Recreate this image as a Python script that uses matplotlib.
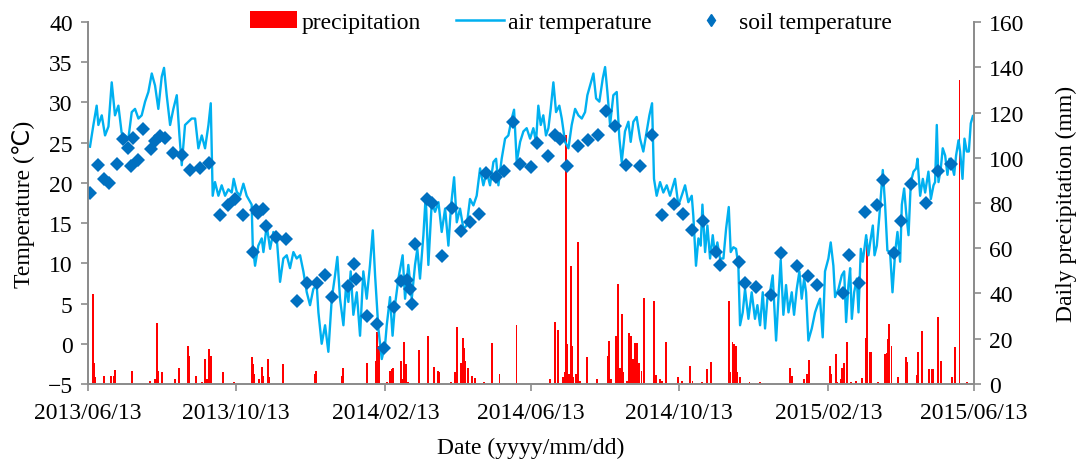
import numpy as np
import matplotlib
matplotlib.use("Agg")
import matplotlib.pyplot as plt
import matplotlib.dates as mdates
from matplotlib.patches import Patch
from matplotlib.lines import Line2D

plt.rcParams['font.family'] = ['Liberation Serif', 'DejaVu Sans']
plt.rcParams['font.size'] = 17

start_date = "2013-06-13"
end_date = "2015-06-13"
tick_dates = ["2013-06-13", "2013-10-13", "2014-02-13", "2014-06-13",
              "2014-10-13", "2015-02-13", "2015-06-13"]

# daily air temperature, days after 2013/06/13
air_day = [1.6, 4.4, 7.1, 8.5, 11.3, 14.0, 16.8, 19.5, 22.2, 25.0, 27.7, 30.5, 33.2, 36.0, 38.7,
           41.5, 44.2, 47.0, 49.7, 52.5, 55.2, 57.9, 60.7, 62.6, 64.8, 67.6, 70.3, 73.1, 75.3,
           77.2, 79.9, 82.7, 85.4, 88.2, 90.9, 93.7, 96.4, 99.2, 101.1, 102.7, 104.6, 107.4,
           110.1, 112.9, 115.6, 118.4, 120.0, 122.5, 125.2, 128.0, 130.7, 134.8, 135.7, 137.6,
           140.3, 143.1, 144.5, 147.2, 150.0, 152.7, 155.5, 158.2, 160.9, 163.7, 166.4, 169.2,
           171.9, 174.7, 177.4, 180.2, 182.9, 185.6, 188.4, 189.8, 192.5, 195.3, 198.0, 200.8,
           203.5, 205.4, 207.6, 210.4, 212.6, 214.5, 216.4, 218.6, 221.4, 224.1, 226.8, 229.6,
           232.3, 234.6, 236.5, 239.2, 242.0, 244.7, 246.1, 248.8, 250.9, 252.9, 255.7, 259.2,
           261.2, 263.9, 266.7, 269.4, 271.3, 273.5, 276.3, 278.2, 280.4, 283.2, 285.9, 288.7,
           291.4, 294.2, 296.9, 299.1, 301.6, 303.8, 306.5, 309.3, 312.0, 314.7, 317.5, 320.2,
           323.0, 325.7, 328.5, 331.2, 334.0, 336.2, 338.1, 340.8, 343.6, 346.3, 349.1, 351.0,
           353.2, 356.0, 358.7, 361.4, 364.2, 366.9, 369.1, 371.0, 373.0, 375.1, 377.3, 379.3,
           381.2, 383.4, 385.6, 388.3, 390.3, 393.0, 395.8, 398.5, 401.3, 404.0, 406.8, 409.5,
           411.4, 413.6, 416.4, 418.6, 421.3, 424.1, 426.0, 427.9, 430.1, 432.8, 435.6, 437.8,
           439.7, 442.4, 445.2, 447.1, 449.3, 452.0, 454.8, 457.5, 460.3, 462.5, 464.7, 466.3,
           468.5, 471.3, 474.0, 476.8, 479.5, 483.6, 486.4, 489.1, 491.9, 494.6, 497.4, 498.7,
           500.9, 502.9, 504.8, 506.2, 508.4, 510.3, 512.5, 514.7, 516.6, 518.5, 520.7, 523.5,
           525.7, 527.9, 529.5, 531.7, 533.9, 535.8, 537.2, 539.4, 541.3, 544.1, 546.8, 549.5,
           551.5, 553.7, 555.9, 557.8, 559.7, 561.9, 564.1, 566.9, 569.1, 570.7, 572.9, 575.1,
           577.1, 579.8, 581.7, 583.9, 586.1, 588.0, 590.0, 591.6, 593.5, 596.3, 599.0, 601.0,
           603.1, 605.3, 607.2, 610.0, 611.9, 614.1, 615.5, 618.3, 621.0, 623.0, 624.6, 626.5,
           627.9, 629.3, 631.2, 633.4, 634.8, 636.7, 638.3, 641.1, 643.0, 644.4, 646.6, 648.0,
           649.9, 652.0, 654.8, 656.7, 658.6, 660.8, 662.8, 665.0, 666.9, 669.1, 670.5, 672.4,
           674.0, 676.0, 677.9, 680.1, 682.3, 683.4, 685.6, 687.8, 689.7, 692.4, 694.4, 696.6,
           697.9, 699.3, 700.7, 702.6, 704.2, 706.2, 708.1, 709.7, 711.7, 713.6, 715.2, 717.2,
           718.5, 720.5, 722.1, 724.0, 725.7, 727.3, 729.0]
air_temp = [24.5, 27.2, 29.6, 27.2, 28.4, 25.9, 27.0, 32.5, 28.4, 29.6, 26.2, 25.9, 25.5, 28.8, 29.2,
            28.0, 28.4, 30.1, 31.3, 33.6, 32.1, 29.2, 33.2, 34.3, 30.9, 27.2, 29.2, 30.9, 25.9,
            22.2, 27.2, 27.6, 28.0, 28.0, 24.3, 25.9, 24.3, 27.2, 29.9, 18.4, 20.1, 18.4,
            19.7, 18.4, 19.2, 18.8, 20.5, 18.9, 18.4, 19.9, 18.4, 17.3, 12.2, 9.7,
            12.2, 13.1, 11.4, 14.7, 11.8, 13.9, 13.1, 7.7, 10.6, 11.0, 9.4, 11.4,
            10.6, 11.0, 9.0, 6.4, 4.8, 6.8, 7.3, 3.9, 0.0, 2.3, -1.0, 5.6,
            8.5, 10.8, 5.6, 2.3, 7.3, 5.2, 9.0, 3.6, 6.4, 1.0, 9.0, 5.6,
            9.8, 14.1, 8.5, 1.9, -1.9, -0.2, 2.3, 5.8, 1.0, 4.8, 8.1, 11.0,
            5.6, 9.8, 5.6, 9.8, 11.8, 8.1, 13.5, 18.4, 9.8, 17.6, 16.4, 17.6,
            13.9, 16.8, 12.2, 17.2, 20.7, 15.1, 16.8, 14.3, 14.7, 18.0, 17.2, 18.4,
            21.8, 19.7, 21.4, 19.7, 22.6, 23.0, 19.7, 23.0, 25.5, 25.9, 28.0, 29.1,
            22.6, 25.1, 26.4, 26.8, 25.5, 26.8, 25.1, 29.6, 27.2, 28.4, 25.9, 26.8,
            29.2, 32.5, 28.8, 29.6, 28.0, 25.1, 24.3, 27.2, 29.2, 28.4, 28.0, 28.8,
            30.9, 32.1, 33.6, 30.5, 30.1, 33.0, 34.4, 31.3, 27.2, 30.9, 31.3, 25.5,
            22.6, 26.4, 27.6, 25.1, 27.6, 28.2, 25.5, 23.9, 26.4, 28.4, 29.9, 20.5,
            18.4, 20.1, 18.8, 19.7, 18.4, 20.5, 17.2, 18.4, 19.7, 17.6, 18.4, 15.9,
            9.7, 13.1, 12.2, 17.3, 11.4, 14.7, 10.6, 13.5, 11.0, 12.6, 10.6, 10.6,
            14.3, 17.0, 11.4, 12.0, 11.8, 9.7, 2.3, 3.9, 6.8, 3.1, 6.4, 3.1,
            4.8, 2.3, 6.4, 1.9, 5.6, 6.4, 8.5, 0.4, 6.4, 10.4, 3.6, 7.3,
            3.9, 6.4, 3.6, 6.8, 9.0, 5.6, 8.1, 6.4, 0.4, 1.9, 3.9, 4.8,
            5.6, 0.8, 9.0, 10.6, 12.6, 9.7, 5.8, 6.8, 8.5, 9.0, 2.7, 7.3,
            9.4, 3.1, 6.4, 8.1, 3.9, 11.8, 10.2, 13.5, 11.0, 12.6, 14.7, 11.0,
            12.2, 15.9, 21.6, 17.3, 11.6, 11.4, 6.4, 11.4, 13.9, 10.2, 17.3, 19.3,
            16.4, 13.5, 20.1, 21.4, 21.8, 23.0, 18.4, 20.5, 18.8, 21.4, 18.0, 19.7,
            20.1, 27.2, 20.1, 21.8, 24.3, 23.4, 21.0, 23.0, 22.2, 21.0, 23.4, 25.3,
            23.9, 20.5, 25.5, 23.9, 23.9, 27.4, 28.3]

# soil temperature samples
soil_day = [2, 8, 13, 17, 24, 29, 33, 35, 37, 41, 45, 52, 55, 59, 63, 70, 77, 84, 92, 100,
            109, 115, 121, 128, 136, 138, 140, 144, 147, 155, 163, 172, 180, 189, 195, 201,
            214, 219, 221, 230, 238, 244, 252, 258, 263, 265, 267, 269, 279, 283, 292, 300,
            307, 315, 322, 328, 336, 343, 350, 356, 365, 370, 379, 385, 389, 395, 404, 412,
            420, 427, 434, 443, 455, 465, 473, 483, 490, 498, 507, 517, 521, 536, 541, 550,
            563, 571, 584, 593, 601, 622, 627, 635, 640, 650, 655, 664, 670, 678, 690, 700, 711]
soil_temp = [18.7, 22.2, 20.5, 20.0, 22.3, 25.4, 24.3, 22.1, 25.6, 22.9, 26.7, 24.2, 25.2, 25.8,
             25.6, 23.7, 23.5, 21.6, 21.9, 22.5, 16.0, 17.3, 18.0, 16.0, 11.4, 16.6, 16.3, 16.8,
             14.7, 13.3, 13.0, 5.3, 7.5, 7.6, 8.5, 5.8, 7.2, 9.95, 8.0, 3.5, 2.5, -0.5, 4.6,
             7.75, 7.9, 6.8, 4.9, 12.4, 17.95, 17.5, 10.9, 16.9, 14.0, 15.1, 16.1, 21.2, 20.7,
             21.5, 27.6, 22.3, 22.0, 24.9, 23.4, 25.9, 25.5, 22.1, 24.6, 25.3, 26.0, 28.9, 27.1,
             22.2, 22.1, 25.9, 16.0, 17.4, 16.1, 14.2, 15.2, 11.4, 9.8, 10.2, 7.6, 7.0, 6.1,
             11.3, 9.7, 8.4, 7.3, 6.3, 11.0, 7.5, 16.4, 17.2, 20.3, 11.3, 15.3, 19.9, 17.5,
             21.5, 22.4]

# daily precipitation (mm), rainy days only
rain_day = [4, 5, 6, 13, 19, 21, 22, 36, 51, 55, 57, 58, 61, 72, 75, 82, 83, 89, 94, 96, 98,
            100, 101, 111, 120, 135, 136, 137, 141, 143, 144, 148, 149, 161, 187, 188, 209,
            210, 230, 237, 238, 240, 246, 249, 250, 251, 258, 259, 260, 262, 264, 273, 280,
            285, 288, 289, 299, 302, 304, 307, 309, 310, 311, 313, 316, 319, 326, 333, 339,
            353, 381, 385, 387, 391, 393, 394, 395, 396, 398, 399, 400, 402, 404, 405, 411,
            419, 428, 429, 431, 435, 437, 438, 440, 441, 444, 446, 447, 449, 451, 452, 454,
            456, 458, 466, 468, 471, 473, 476, 486, 489, 496, 498, 506, 510, 513, 528, 529,
            531, 532, 534, 535, 537, 545, 554, 578, 580, 590, 592, 593, 594, 611, 612, 616,
            617, 620, 621, 623, 625, 629, 633, 638, 641, 642, 644, 645, 651, 657, 658, 659,
            660, 662, 667, 674, 675, 683, 684, 687, 693, 695, 696, 700, 703, 712, 714, 718, 724]
rain_mm = [39.8, 9.3, 3.0, 3.7, 3.7, 3.7, 6.3, 5.6, 1.2, 2.0, 27.0, 5.9, 5.2, 2.0, 7.1, 16.6,
           12.5, 3.4, 1.0, 11.0, 2.2, 15.5, 12.5, 5.2, 0.7, 12.1, 8.8, 4.4, 2.2, 7.4, 3.4, 11.0,
           2.9, 8.8, 4.4, 5.9, 3.7, 6.9, 9.3, 10.3, 22.8, 16.9, 0.7, 5.9, 6.6, 6.9, 10.3, 2.2,
           18.4, 8.8, 1.0, 15.2, 21.1, 7.4, 5.9, 5.4, 0.7, 5.2, 25.0, 9.3, 20.3, 15.9, 10.3,
           6.9, 3.4, 2.5, 0.7, 18.1, 4.4, 26.2, 2.2, 27.2, 24.0, 2.9, 5.2, 110.0, 17.7, 4.4,
           52.3, 16.9, 2.9, 4.4, 62.6, 1.5, 11.8, 2.2, 12.5, 19.1, 2.2, 21.4, 44.2, 6.9, 30.9,
           5.2, 1.5, 22.5, 21.4, 11.0, 18.1, 18.1, 9.3, 5.9, 38.0, 36.5, 4.0, 2.2, 1.5, 18.4,
           3.2, 1.5, 8.1, 1.5, 1.0, 6.6, 9.6, 36.8, 5.2, 18.4, 17.7, 16.9, 5.2, 2.9, 1.0, 0.7,
           6.9, 3.7, 2.2, 4.4, 4.1, 10.6, 8.1, 4.4, 13.3, 0.7, 2.2, 6.9, 9.3, 18.4, 1.0, 1.5,
           2.5, 20.2, 64.1, 14.3, 14.3, 0.7, 13.3, 13.7, 19.9, 26.5, 16.9, 2.9, 12.1, 9.6, 4.0,
           14.0, 23.6, 6.6, 6.6, 6.6, 29.5, 10.3, 2.9, 16.2, 134.5, 0.7]

t0 = mdates.datestr2num(start_date)
air_x = t0 + np.array(air_day)
soil_x = t0 + np.array(soil_day)
rain_x = t0 + np.array(rain_day)

axis_gray = "#8c8c8c"

fig = plt.figure(figsize=(10.83, 4.64), dpi=100)
ax = fig.add_axes([0.0813, 0.1703, 0.8181, 0.7801])
ax2 = ax.twinx()

ax2.bar(rain_x, rain_mm, width=1.6, color="#ff0000", linewidth=0)
ax.plot(air_x, air_temp, color="#00b0f0", linewidth=1.7)
ax.plot(soil_x, soil_temp, linestyle="none", marker="D", markersize=7,
        color="#0070c0", markeredgewidth=0)

ax.set_zorder(ax2.get_zorder() + 1)
ax.patch.set_visible(False)

ax.set_xlim(mdates.datestr2num(start_date), mdates.datestr2num(end_date))
ax.set_ylim(-5, 40)
ax.set_yticks(np.arange(-5, 41, 5))
ax2.set_ylim(0, 160)
ax2.set_yticks(np.arange(0, 161, 20))

ax.set_xticks([mdates.datestr2num(d) for d in tick_dates])
ax.xaxis.set_major_formatter(mdates.DateFormatter("%Y/%m/%d"))

for a in (ax, ax2):
    for side in ("left", "right", "bottom"):
        a.spines[side].set_color(axis_gray)
        a.spines[side].set_linewidth(1.3)
    a.spines["top"].set_visible(False)
    a.tick_params(direction="out", length=5, width=1.2, color=axis_gray, labelcolor="black")
ax.tick_params(axis="x", pad=8)
ax.tick_params(axis="y", pad=6)
ax2.tick_params(axis="y", pad=6)

ax.set_xlabel("Date (yyyy/mm/dd)", labelpad=10)
ax.set_ylabel("Temperature (\u2103)", labelpad=9)
ax2.set_ylabel("Daily precipitation (mm)", labelpad=22)

handles = [Patch(facecolor="#ff0000", edgecolor="none"),
           Line2D([], [], color="#00b0f0", linewidth=1.8),
           Line2D([], [], linestyle="none", marker="d", markersize=6, color="#0070c0")]
labels = ["precipitation", "air temperature", "soil temperature"]
ax.legend(handles, labels, loc="center", bbox_to_anchor=(0.545, 1.0), ncol=3,
          frameon=False, handlelength=2.0, handletextpad=0.2, columnspacing=1.5,
          borderaxespad=0, borderpad=0)

fig.savefig("out.png", dpi=100)
